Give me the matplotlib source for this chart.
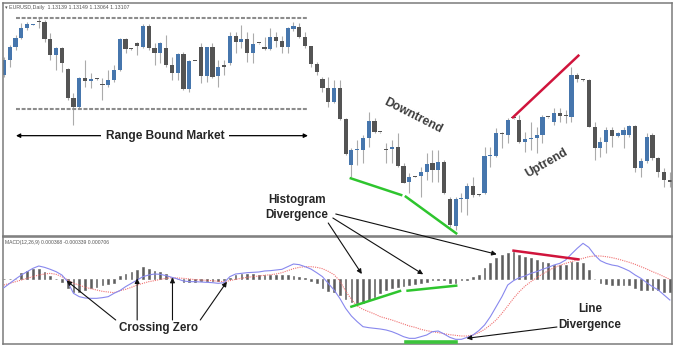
import matplotlib
matplotlib.use("Agg")
import matplotlib.pyplot as plt
import numpy as np

plt.rcParams['font.family'] = ['Liberation Sans', 'DejaVu Sans']

# EURUSD daily candles, price in chart points
open_ = [495, 540, 578, 607, 635, 646, 653, 655, 603, 555,
         575, 513, 425, 400, 485, 477, 483, 468, 465, 480,
         510, 603, 573, 592, 580, 642, 575, 560, 575, 525,
         500, 558, 452, 538, 578, 492, 580, 492, 525, 530,
         612, 593, 603, 562, 590, 580, 572, 608, 598, 580,
         633, 640, 608, 582, 528, 482, 455, 415, 455, 363,
         225, 270, 270, 305, 358, 323, 273, 273, 280, 222,
         174, 190, 193, 205, 230, 210, 233, 122, 42, 123,
         123, 163, 135, 140, 252, 252, 318, 315, 365, 360,
         295, 302, 307, 315, 368, 355, 380, 372, 370, 495,
         480, 480, 340, 277, 295, 330, 312, 315, 315, 342,
         215, 237, 315, 245, 203, 180]
high = [550, 585, 615, 650, 655, 649, 670, 660, 622, 580,
        580, 515, 440, 490, 540, 500, 485, 485, 510, 525,
        605, 607, 575, 595, 647, 647, 592, 595, 615, 550,
        560, 565, 540, 538, 592, 580, 592, 540, 540, 625,
        625, 645, 625, 620, 592, 610, 635, 625, 612, 640,
        655, 650, 625, 582, 535, 490, 490, 480, 480, 365,
        275, 300, 315, 385, 365, 325, 290, 300, 320, 230,
        200, 192, 220, 260, 270, 270, 240, 130, 130, 140,
        170, 190, 137, 280, 280, 337, 325, 367, 367, 375,
        325, 353, 340, 375, 370, 395, 395, 390, 520, 500,
        482, 482, 355, 310, 340, 340, 325, 340, 345, 345,
        245, 320, 322, 250, 215, 205]
low = [490, 520, 570, 602, 630, 645, 635, 595, 540, 510,
       505, 420, 345, 395, 460, 455, 481, 420, 458, 475,
       508, 560, 571, 555, 575, 570, 525, 530, 520, 480,
       480, 450, 445, 536, 472, 475, 485, 460, 495, 525,
       560, 575, 535, 530, 588, 570, 570, 580, 560, 560,
       628, 605, 575, 520, 495, 445, 400, 410, 360, 255,
       190, 225, 230, 280, 320, 321, 230, 230, 220, 170,
       140, 188, 130, 180, 175, 175, 138, 40, 30, 85,
       75, 130, 133, 138, 220, 250, 275, 290, 363, 290,
       265, 270, 260, 290, 366, 345, 355, 350, 355, 475,
       478, 338, 240, 250, 260, 280, 310, 275, 310, 205,
       190, 230, 240, 190, 160, 160]
close = [540, 578, 607, 636, 648, 648, 653, 603, 555, 575,
         530, 425, 400, 485, 477, 483, 483, 464, 480, 510,
         603, 572, 573, 582, 642, 575, 560, 590, 525, 500,
         558, 452, 537, 536, 492, 578, 490, 520, 520, 612,
         595, 603, 562, 588, 590, 572, 610, 598, 580, 635,
         643, 608, 582, 528, 505, 455, 415, 455, 363, 258,
         270, 272, 305, 358, 325, 323, 271, 280, 222, 172,
         190, 190, 205, 228, 210, 233, 140, 45, 124, 124,
         163, 135, 135, 253, 255, 320, 318, 360, 365, 295,
         302, 307, 315, 368, 368, 382, 372, 372, 495, 482,
         480, 340, 277, 295, 330, 312, 320, 330, 342, 215,
         237, 310, 245, 205, 180, 175]

# MACD(12,26,9) panel, in the same kind of chart points
macd = [-25, -12, 1, 13, 23, 33, 40, 36, 30, 23,
        13, -7, -42, -52, -56, -57, -57, -55, -52, -42,
        -34, -22, -12, -2, 8, 13, 16, 15, 11, 6,
        1, -5, -7, -7, -8, -9, -10, -12, -10, 8,
        16, 18, 20, 21, 22, 25, 26, 28, 30, 38,
        46, 44, 38, 31, 20, 8, -12, -32, -57, -87,
        -110, -127, -142, -145, -147, -149, -152, -157, -164, -172,
        -177, -177, -172, -167, -157, -155, -164, -174, -180, -180,
        -174, -167, -154, -137, -112, -82, -52, -17, -4, 5,
        10, 18, 23, 30, 36, 43, 48, 58, 76, 93,
        108, 96, 73, 56, 48, 43, 40, 33, 25, 13,
        3, -10, -22, -32, -47, -62]
signal = [-17, -12, -7, -2, 3, 8, 13, 16, 18, 15,
          8, -2, -12, -17, -24, -28, -32, -36, -38, -40,
          -34, -30, -24, -17, -12, -7, -4, 0, 3, 5,
          4, 3, 1, -1, -2, -3, -4, -6, -7, -4,
          0, 3, 6, 8, 10, 12, 14, 16, 20, 26,
          32, 36, 38, 38, 36, 32, 24, 14, -5, -35,
          -60, -80, -90, -97, -104, -112, -117, -122, -128, -134,
          -140, -144, -150, -154, -157, -160, -163, -166, -168, -170,
          -170, -167, -160, -150, -137, -122, -102, -80, -57, -37,
          -20, -7, 5, 16, 26, 35, 42, 48, 53, 58,
          63, 68, 70, 70, 68, 65, 61, 56, 51, 45,
          38, 31, 23, 16, 8, 0]
hist = [1, 1, 2, 18, 26, 30, 30, 23, 10, 2,
        -7, -27, -37, -37, -32, -27, -22, -17, -15, -10,
        10, 15, 22, 28, 36, 32, 26, 22, 15, 5,
        1, -8, -8, -7, -6, -6, -5, -4, -2, 5,
        12, 15, 15, 15, 14, 14, 13, 13, 12, 12,
        10, 8, 3, -5, -10, -25, -35, -38, -48, -58,
        -68, -70, -72, -62, -52, -42, -32, -27, -22, -20,
        -17, -14, -12, -7, -2, -1, -1, -12, -10, -3,
        -1, 6, 13, 33, 48, 63, 73, 78, 83, 73,
        68, 63, 58, 53, 48, 43, 43, 43, 53, 53,
        48, 28, 2, -12, -14, -17, -17, -17, -17, -27,
        -32, -32, -32, -32, -37, -37]

# range bounds and drawn trend lines (candle index, price points)
range_top, range_bottom = 667, 393
range_x = [2.1, 52.3]
price_red = ([87.9, 99.2], [368, 553])
price_green1 = ([59.9, 68.6], [185, 135])
price_green2 = ([69.4, 78.1], [130, 20])
macd_red = ([88.0, 99.2], [86, 60])
macd_green1 = ([60.0, 68.4], [-82, -35])
macd_green2 = ([69.7, 78.1], [-34, -19])
macd_green_low = ([69.4, 78.1], [-187, -187])

BLUE = '#4676ad'
DARK = '#545454'
TXT = '#262626'

fig = plt.figure(figsize=(6.77, 3.48), dpi=100)
ax = fig.add_axes([3 / 677, 112 / 348, 669 / 677, 233 / 348])
axm = fig.add_axes([3 / 677, 4 / 348, 669 / 677, 107 / 348])

o = np.array(open_)
h = np.array(high)
l = np.array(low)
c = np.array(close)
x = np.arange(len(o))
cols = np.where(c > o, BLUE, DARK)

ax.vlines(x, l, h, color='#ababab', lw=0.8, zorder=1)
ax.bar(x, np.maximum(np.abs(c - o), 3), bottom=np.minimum(o, c),
       width=0.72, color=cols, zorder=2)

ax.plot(range_x, [range_top] * 2, color='#8c8c8c', lw=1.5, dashes=(1.9, 0.8))
ax.plot(range_x, [range_bottom] * 2, color='#8c8c8c', lw=1.5, dashes=(1.9, 0.8))

ax.plot(*price_red, color='#d0143c', lw=1.8)
ax.plot(*price_green1, color='#2ec52e', lw=1.8)
ax.plot(*price_green2, color='#2ec52e', lw=1.8)

ax.annotate('', xy=(2.07, 313), xytext=(52.5, 313),
            arrowprops=dict(arrowstyle='<|-|>', lw=0.9, color='black',
                            mutation_scale=6, shrinkA=0, shrinkB=0))
ax.text(27.8, 313, 'Range Bound Market', ha='center', va='center',
        fontsize=8.6, fontweight='bold', color=TXT,
        bbox=dict(boxstyle='square,pad=0.4', fc='white', ec='none'))
ax.text(70.7, 372, 'Downtrend', ha='center', va='center', rotation=-27,
        rotation_mode='anchor', fontsize=8.8, fontweight='bold', color='#3c3c3c')
ax.text(93.7, 230, 'Uptrend', ha='center', va='center', rotation=30,
        rotation_mode='anchor', fontsize=8.8, fontweight='bold', color='#3c3c3c')
ax.text(50.6, 97, 'Histogram\nDivergence', ha='center', va='center',
        fontsize=8.4, fontweight='bold', color=TXT, linespacing=1.35)
ax.text(0.003, 0.992, '\u25be EURUSD,Daily  1.13139 1.13149 1.13064 1.13107',
        transform=ax.transAxes, ha='left', va='top', fontsize=3.8, color='#555555')

ax.set_xlim(-0.17, 115.37)
ax.set_ylim(12, 711)

# MACD panel
axm.bar(x, hist, width=0.3, color='#5e5e5e', edgecolor='#5e5e5e', lw=0.4, zorder=2)
axm.plot(x, signal, color='#f07070', lw=0.8, linestyle=(0, (1, 1)), zorder=3)
axm.plot(x, macd, color='#8888ee', lw=0.8, zorder=3)
axm.plot(*macd_red, color='#d0143c', lw=1.8, zorder=4)
axm.plot(*macd_green1, color='#2ec52e', lw=1.8, zorder=4)
axm.plot(*macd_green2, color='#2ec52e', lw=1.8, zorder=4)
axm.plot(*macd_green_low, color='#3cc43c', lw=2.6, zorder=4)
axm.text(0.003, 0.975, 'MACD(12,26,9) 0.000368 -0.000339 0.000706',
         transform=axm.transAxes, ha='left', va='top', fontsize=3.6, color='#555555')

arrow = dict(arrowstyle='-|>', lw=0.8, color='#111111', mutation_scale=7,
             shrinkA=0, shrinkB=0)

# Crossing Zero
axm.text(26.6, -145, 'Crossing Zero', ha='center', va='center',
         fontsize=8.4, fontweight='bold', color=TXT)
for start, end in [((19.3, -122), (10.8, -4)), ((23.0, -122), (23.0, 3)),
                   ((29.1, -122), (29.1, 5)), ((33.9, -122), (38.5, -7))]:
    axm.annotate('', xy=end, xytext=start, arrowprops=arrow)

# Line Divergence
axm.text(101.2, -113, 'Line\nDivergence', ha='center', va='center',
         fontsize=8.4, fontweight='bold', color=TXT, linespacing=1.35)
axm.annotate('', xy=(79.9, -177), xytext=(95.5, -143), arrowprops=arrow)

# Histogram Divergence arrows run from the price panel into the MACD panel
for start, end in [((56.0, 51), (61.8, 16)), ((56.8, 66), (72.4, 15)),
                   ((57.3, 78), (85.1, 75))]:
    axm.annotate('', xy=end, xytext=start, textcoords=ax.transData,
                 arrowprops=arrow, annotation_clip=False)

axm.set_xlim(-0.17, 115.37)
axm.set_ylim(-194, 127)

for a in (ax, axm):
    a.set_xticks([])
    a.set_yticks([])
    for s in a.spines.values():
        s.set_color('#7a7a7a')
        s.set_linewidth(1.1)

fig.savefig('out.png', dpi=100, facecolor='white')
